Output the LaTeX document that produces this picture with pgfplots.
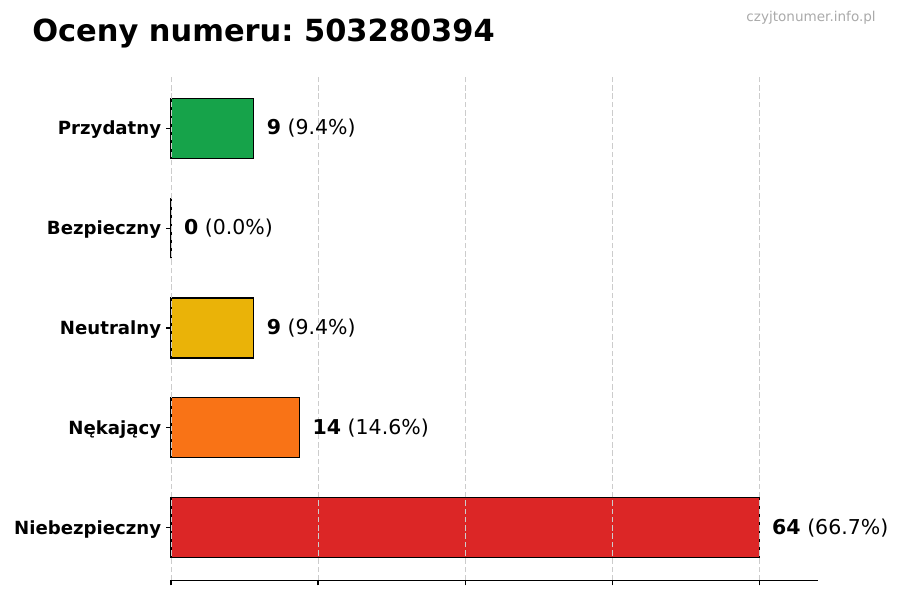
\documentclass[border=0pt]{standalone}
\usepackage{fontspec}
\setmainfont{DejaVu Sans}
\usepackage{pgfplots}
\pgfplotsset{compat=1.18}

\definecolor{cGreen}{HTML}{16A34A}
\definecolor{cBlue}{HTML}{2563EB}
\definecolor{cYellow}{HTML}{EAB308}
\definecolor{cOrange}{HTML}{F97316}
\definecolor{cRed}{HTML}{DC2626}
\definecolor{cGrid}{HTML}{CCCCCC}
\definecolor{cMark}{HTML}{AAAAAA}

\begin{document}
\frenchspacing
\begin{tikzpicture}
\path[use as bounding box] (0,0) rectangle (9in,6in);
\begin{axis}[
	at={(1.71in,0.195in)}, anchor=south west,
	scale only axis, width=6.47in, height=5.05in,
	xmin=0, xmax=70.4, ymin=-0.53, ymax=4.53,
	xbar, bar shift=0pt, bar width=0.6in,
	axis on top, clip=false,
	separate axis lines,
	axis x line*=bottom, axis y line*=left,
	y axis line style={draw=none},
	x axis line style={-, line width=0.8pt},
	xtick={0,16,32,48,64}, xticklabels={},
	ytick={0,1,2,3,4},
	yticklabels={Niebezpieczny, Nękający, Neutralny, Bezpieczny, Przydatny},
	yticklabel style={font=\fontsize{13.1}{15}\selectfont\bfseries, yshift=-0.015in},
	tick align=outside, major tick length=0.05in,
	tick style={black, line width=0.8pt},
	xmajorgrids,
	major grid style={cGrid, dash pattern=on 4pt off 2pt, line width=0.6pt},
	every axis plot/.append style={draw=black, line width=0.8pt},
	nodes near coords, point meta=explicit symbolic,
	nodes near coords style={anchor=west, inner sep=0pt, xshift=0.125in,
		font=\fontsize{14.8}{17}\selectfont, text=black},
]
\addplot[fill=cRed] coordinates {(64,0) [\textbf{64} (66.7\%)]};
\addplot[fill=cOrange] coordinates {(14,1) [\textbf{14} (14.6\%)]};
\addplot[fill=cYellow] coordinates {(9,2) [\textbf{9} (9.4\%)]};
\addplot[fill=cBlue] coordinates {(0,3) [\textbf{0} (0.0\%)]};
\addplot[fill=cGreen] coordinates {(9,4) [\textbf{9} (9.4\%)]};
\end{axis}
\node[anchor=base west, inner sep=0pt, font=\fontsize{22}{26}\selectfont\bfseries]
	at (0.32in,5.585in) {Oceny numeru: 503280394};
\node[anchor=base east, inner sep=0pt, text=cMark, font=\fontsize{9.8}{12}\selectfont]
	at (8.76in,5.78in) {czyjtonumer.info.pl};
\end{tikzpicture}
\end{document}
